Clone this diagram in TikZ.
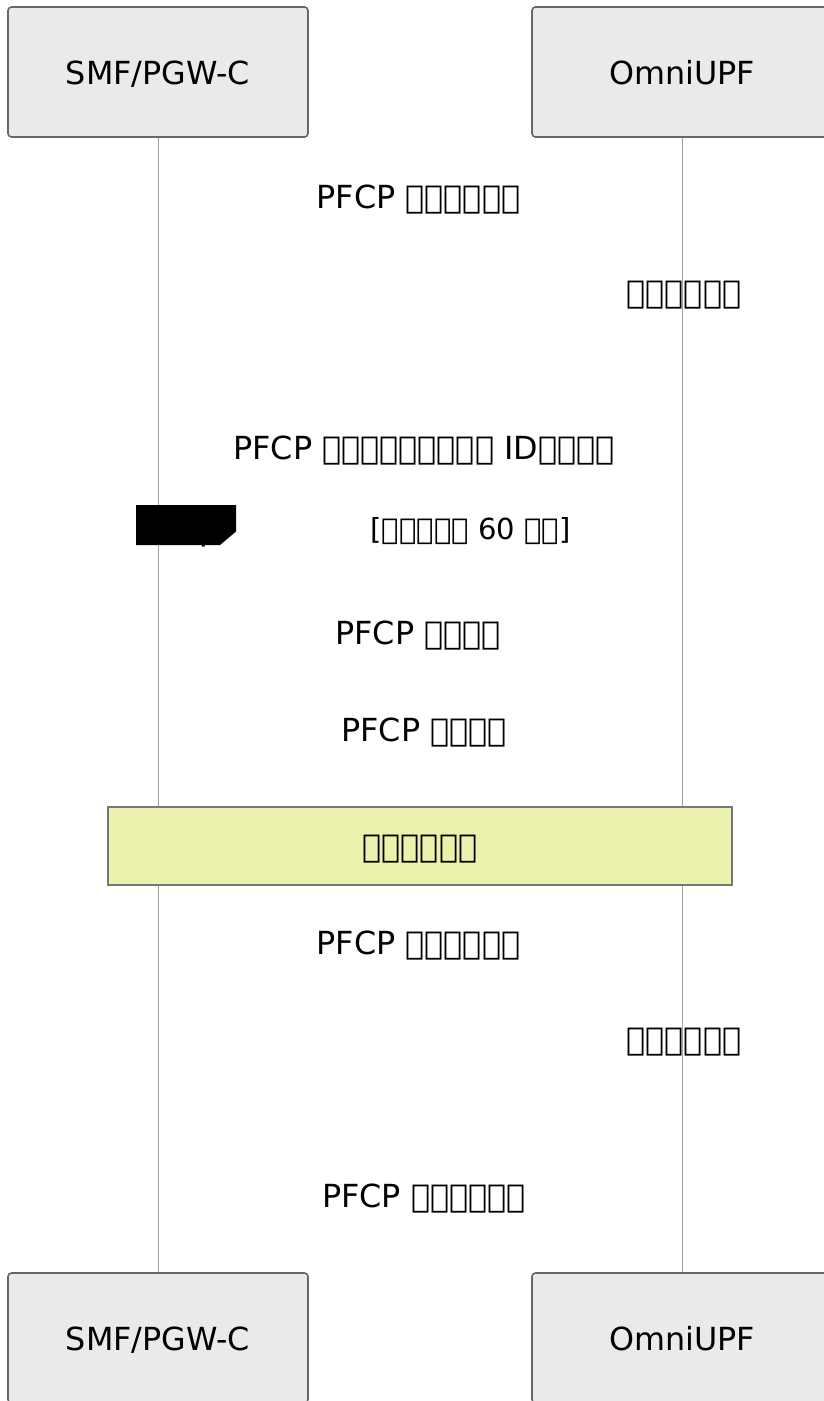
\documentclass[tikz,border=0pt]{standalone}
\usepackage{fontspec}
\setmainfont{DejaVu Sans}
\newcommand\tofu{\XeTeXglyph0\relax}
\newcommand\tofus[1]{\foreach \k in {1,...,#1}{\tofu}}
\definecolor{actfill}{HTML}{EAEAEA}
\definecolor{actline}{HTML}{666666}
\definecolor{lifeline}{HTML}{A0A0A0}
\definecolor{notefill}{HTML}{ECF2AE}
\definecolor{noteline}{HTML}{777777}
\begin{document}
\begin{tikzpicture}[x=1pt,y=-1pt,
  actor/.style={draw=actline, fill=actfill, line width=1.6pt, rounded corners=3.5pt,
     minimum width=300pt, minimum height=130pt, inner sep=0pt, font=\fontsize{31.8}{38}\selectfont},
  lbl/.style={anchor=base, inner sep=0pt, font=\fontsize{31.8}{38}\selectfont},
  looplbl/.style={anchor=base, inner sep=0pt, font=\fontsize{29}{35}\selectfont},
  life/.style={draw=lifeline, line width=1pt},
  notebox/.style={draw=noteline, fill=notefill, line width=1.6pt, minimum width=624pt,
     minimum height=78pt, inner sep=0pt}
]
\useasboundingbox (0,0) rectangle (824,1401);
\clip (0,0) rectangle (824,1401);
\fill[white] (0,0) rectangle (824,1401);

% lifelines
\coordinate (smftop) at (158,137);
\coordinate (smfbot) at (158,1273);
\coordinate (upftop) at (682,137);
\coordinate (upfbot) at (682,1273);
\draw[life] (smftop) -- (smfbot);
\draw[life] (upftop) -- (upfbot);

% actors
\node[actor] (smf) at (158,72) {};
\node[actor] (upf) at (682,72) {};
\node[actor] (smfb) at (158,1338) {};
\node[actor] (upfb) at (682,1338) {};
\node[lbl] (smft) at (158,84) {SMF/PGW-C};
\node[lbl] (upft) at (682,84) {OmniUPF};
\node[lbl] (smfbt) at (158,1350) {SMF/PGW-C};
\node[lbl] (upfbt) at (682,1350) {OmniUPF};

% messages
\node[lbl] (m1) at (418.5,208) {PFCP \tofus{6}};
\node[lbl] (m2) at (684,303) {\tofus{6}};
\node[lbl] (m3) at (424,459) {PFCP \tofus{9} ID\tofus{4}};

% loop label
\fill[black] (136,505) -- (236,505) -- (236,531.5) -- (220,545) -- (136,545) -- cycle;
\node[lbl, text=black] (looplbl) at (186,540) {loop};
\node[looplbl] (loopt) at (470.5,539) {[\tofus{5} 60 \tofus{2}]};

\node[lbl] (m4) at (418,644) {PFCP \tofus{4}};
\node[lbl] (m5) at (424,741) {PFCP \tofus{4}};

% note
\node[notebox] (note) at (420,846) {};
\node[lbl] (notet) at (420,857) {\tofus{6}};

\node[lbl] (m6) at (418.5,954) {PFCP \tofus{6}};
\node[lbl] (m7) at (684,1050) {\tofus{6}};
\node[lbl] (m8) at (424,1207) {PFCP \tofus{6}};
\end{tikzpicture}
\end{document}
